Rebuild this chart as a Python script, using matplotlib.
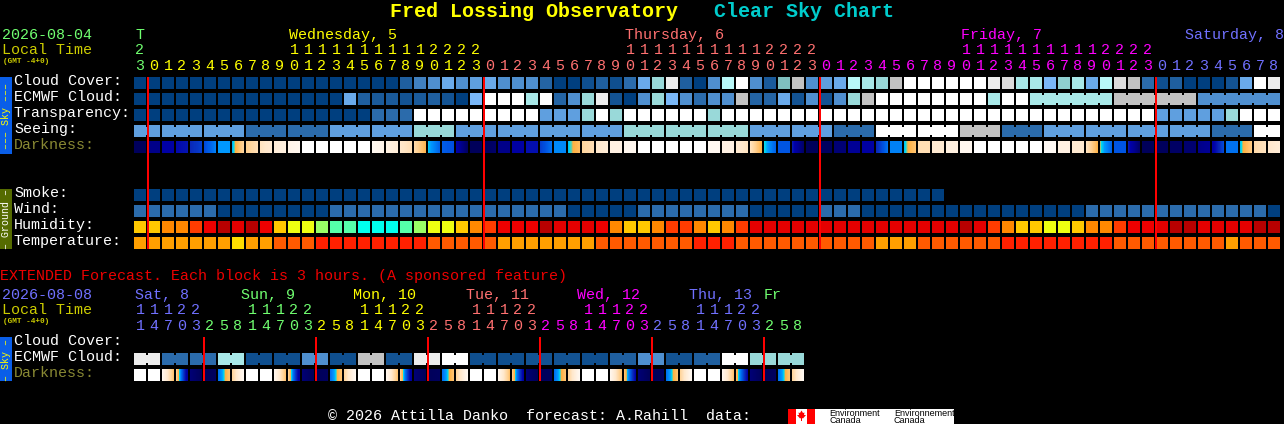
import numpy as np
import matplotlib
matplotlib.use("Agg")
from matplotlib import pyplot as plt
from matplotlib.colors import LinearSegmentedColormap

# main chart, one value per hour block
hours = [23] + list(range(24)) * 3 + list(range(9))

cloud = [0, 0, 0, 0, 0, 0, 0, 0, 0, 0,
         0, 0, 0, 0, 0, 0, 0, 0, 0, 20,
         35, 40, 50, 40, 45, 50, 40, 40, 40, 25,
         0, 0, 5, 20, 5, 30, 50, 70, 95, 20,
         0, 40, 80, 100, 40, 15, 60, 85, 40, 45,
         50, 80, 75, 70, 85, 100, 100, 100, 100, 100,
         100, 95, 90, 75, 75, 55, 65, 75, 50, 80,
         90, 85, 30, 5, 20, 0, 0, 0, 10, 50,
         100, 95]
ecmwf = [0, 0, 0, 0, 0, 0, 0, 0, 0, 0,
         0, 0, 0, 0, 0, 50, 20, 15, 15, 10,
         15, 20, 10, 0, 55, 100, 100, 100, 75, 100,
         25, 40, 70, 95, 10, 0, 40, 70, 55, 40,
         30, 40, 40, 85, 25, 25, 50, 10, 40, 10,
         40, 70, 85, 100, 100, 100, 100, 100, 100, 100,
         100, 75, 100, 100, 75, 75, 75, 75, 75, 75,
         85, 85, 85, 85, 85, 85, 40, 40, 40, 40,
         40, 40]
transparency = [0, 0, 0, 0, 0, 0, 0, 0, 0, 0,
                0, 0, 0, 0, 0, 0, 0, 30, 30, 30,
                100, 100, 100, 100, 100, 100, 100, 100, 100, 45,
                45, 45, 70, 100, 70, 100, 100, 100, 100, 100,
                100, 70, 100, 100, 100, 100, 100, 100, 100, 100,
                100, 100, 100, 100, 100, 100, 100, 100, 100, 100,
                100, 100, 100, 100, 100, 100, 100, 100, 100, 100,
                100, 100, 100, 45, 45, 45, 45, 45, 70, 100,
                100, 100]
# seeing comes in 3 hour groups
seeing_groups = [45, 45, 45, 30, 30, 45, 45, 70, 45, 45, 45, 45, 70, 70, 70,
                 45, 45, 30, 100, 100, 85, 30, 45, 45, 45, 45, 30, 100]
dark_start = [3, 18, 28, 32, 38, 44, 55, 56, 70, 78,
              84, 90, 100, 100, 100, 100, 100, 94, 88, 80,
              74, 57, 47, 30, 2, 3, 18, 27, 33, 42,
              53, 57, 72, 80, 88, 93, 100, 100, 100, 100,
              100, 94, 88, 82, 78, 58, 46, 35, 2, 4,
              12, 22, 27, 38, 52, 57, 76, 82, 87, 93,
              100, 100, 100, 100, 100, 95, 88, 82, 78, 59,
              46, 35, 2, 3, 6, 10, 18, 28, 50, 57,
              74, 80]
dark_end = [3, 18, 28, 34, 42, 52, 55, 72, 76, 82,
            87, 93, 100, 100, 100, 100, 100, 90, 84, 76,
            62, 48, 45, 5, 2, 8, 18, 27, 33, 50,
            53, 64, 76, 84, 88, 93, 100, 100, 100, 100,
            100, 94, 88, 78, 61, 48, 46, 8, 2, 4,
            12, 22, 27, 50, 52, 66, 76, 82, 87, 93,
            100, 100, 100, 100, 100, 95, 88, 82, 61, 48,
            46, 8, 2, 3, 6, 10, 22, 44, 50, 68,
            78, 84]
smoke = [0] * 58
wind = [30] * 6 + [0] * 8 + [30] * 17 + [0] * 5 + [30] * 8 + [0] * 5 + [30] * 3 + [0] * 16 + [30] * 13 + [0]
humidity = [65, 65, 70, 70, 75, 80, 90, 85, 90, 80,
            65, 60, 60, 55, 50, 50, 45, 45, 45, 50,
            55, 60, 60, 65, 70, 75, 80, 80, 80, 90,
            85, 85, 85, 80, 70, 65, 65, 70, 75, 75,
            70, 65, 70, 75, 85, 85, 85, 85, 85, 85,
            85, 85, 85, 85, 85, 85, 85, 85, 85, 90,
            85, 75, 70, 65, 65, 60, 60, 65, 70, 70,
            75, 80, 80, 85, 90, 90, 85, 85, 85, 85,
            90, 90]
temperature = [20] * 7 + [16] + [20] * 2 + [24] * 3 + [28] * 8 + [24] * 5 + [20] * 7 + [24] * 7 \
    + [28] * 3 + [24] * 10 + [20] * 3 + [24] * 6 + [28] * 8 + [24] * 8 + [20] + [24] * 3

# extended forecast, 3 hours per block
ext_hours = [11, 14, 17, 20, 23, 2, 5, 8] * 6
ext_ecmwf = [95, 30, 30, 75, 5, 5, 40, 5, 85, 10, 95, 100,
             5, 5, 10, 10, 5, 20, 40, 10, 20, 100, 70, 70]
ext_dark_start = [100, 100, 92, 70, 12, 2, 50, 72,
                  100, 100, 92, 70, 12, 2, 50, 72,
                  100, 100, 92, 70, 12, 2, 50, 72,
                  100, 100, 92, 68, 12, 2, 50, 72,
                  100, 100, 92, 66, 12, 2, 50, 72,
                  100, 100, 92, 64, 12, 2, 50, 72]
ext_dark_end = [100, 100, 66, 25, 2, 4, 66, 94,
                100, 100, 66, 25, 2, 4, 66, 94,
                100, 100, 66, 25, 2, 4, 66, 94,
                100, 100, 66, 28, 2, 4, 66, 94,
                100, 100, 66, 30, 2, 4, 66, 94,
                100, 100, 66, 30, 2, 4, 66, 94]

day_labels = ["Wednesday, 5", "Thursday, 6", "Friday, 7", "Saturday, 8"]
ext_day_labels = ["Sat, 8", "Sun, 9", "Mon, 10", "Tue, 11", "Wed, 12", "Thu, 13", "Fr"]

# colours
cloud_colors = {0: "#003f7f", 5: "#0f4f8f", 10: "#135393", 15: "#1a5a9a", 20: "#1f5f9f",
                25: "#2464a4", 30: "#2b6bab", 35: "#4080c0", 40: "#4f8fcf", 45: "#5f9fdf",
                50: "#6aaaea", 55: "#7ab8f8", 60: "#7fbfbf", 65: "#8fd0d0", 70: "#99d9d9",
                75: "#a8e8e8", 80: "#b8f8f8", 85: "#c2c2c2", 90: "#dcdcdc", 95: "#ececec",
                100: "#ffffff"}
humidity_colors = {45: "#00ffee", 50: "#55ffaa", 55: "#99ff66", 60: "#eeff11", 65: "#ffc800",
                   70: "#ff8800", 75: "#ff3c00", 80: "#ee0000", 85: "#e40000", 90: "#b80000"}
temp_colors = {16: "#ffdd00", 20: "#ff9f00", 24: "#ff5a00", 28: "#ff2000"}
dark_cmap = LinearSegmentedColormap.from_list("dark", [
    (0.00, "#000055"), (0.10, "#000070"), (0.20, "#000090"), (0.30, "#0000aa"),
    (0.38, "#0a28b8"), (0.45, "#0050e0"), (0.50, "#0070f0"), (0.55, "#0099ff"),
    (0.58, "#00ddee"), (0.60, "#ffb040"), (0.70, "#ffd090"), (0.80, "#ffe8cc"),
    (0.90, "#fff4e8"), (1.00, "#ffffff")])

GREEN = "#70ff70"
YELLOW = "#ffff00"
PINK = "#ff7070"
MAGENTA = "#ff00ff"
BLUE = "#7070ff"
OLIVE = "#cccc00"
MONO = "Liberation Mono"
LEFT = 134
STEP = 14
CELL = 12

fig = plt.figure(figsize=(12.84, 4.24), dpi=100, facecolor="black")
ax = fig.add_axes([0, 0, 1, 1])
ax.set_facecolor("black")
ax.axis("off")


def put(x, y, s, color="white", size=10.8, **kw):
    kw.setdefault("family", MONO)
    ax.text(x, y, s, color=color, fontsize=size, va="baseline", **kw)


def draw_row(values, top, colors):
    xs = [LEFT + STEP * i for i in range(len(values))]
    ax.bar(xs, CELL, width=CELL, bottom=top, align="edge", linewidth=0,
           color=[colors[v] for v in values])


def join_cells(values, top, first, last, colors):
    # little bridge between blocks of one longer forecast period
    for i in range(first, last):
        ax.bar(LEFT + STEP * i + CELL, CELL - 4, width=STEP - CELL, bottom=top + 2, align="edge",
               linewidth=0, color=colors[values[i]])


def draw_darkness(starts, ends, top):
    for i, (a, b) in enumerate(zip(starts, ends)):
        x = LEFT + STEP * i
        ax.imshow(np.linspace(a, b, CELL).reshape(1, -1), cmap=dark_cmap, vmin=0, vmax=100,
                  extent=(x, x + CELL, top + CELL, top), aspect="auto", interpolation="nearest")


def hour_digits(hour_list, colors, y_tens, y_units):
    for i, (h, c) in enumerate(zip(hour_list, colors)):
        x = LEFT + STEP * i + 6
        put(x, y_units, str(h % 10), c, ha="center")
        if h >= 10:
            put(x, y_tens, str(h // 10), c, ha="center")


# title
put(390, 17, "Fred Lossing Observatory", YELLOW, size=14.4, fontweight="bold")
put(714, 17, "Clear Sky Chart", "#00cccc", size=14.4, fontweight="bold")

# main header
put(2, 39, "2026-08-04", GREEN)
put(2, 54, "Local Time", OLIVE)
put(3, 63, "(GMT -4+0)", OLIVE, size=5.6, fontweight="bold")
put(135, 39, "T", GREEN)
for x, label, c in zip([289, 625, 961, 1185], day_labels, [YELLOW, PINK, MAGENTA, BLUE]):
    put(x, 39, label, c)
hour_colors = [GREEN] + [YELLOW] * 24 + [PINK] * 24 + [MAGENTA] * 24 + [BLUE] * 9
hour_digits(hours, hour_colors, 54, 70)

# sky rows
seeing = []
for n, v in enumerate(seeing_groups):
    seeing += [v] * (2 if n in (0, len(seeing_groups) - 1) else 3)

draw_row(cloud, 77, cloud_colors)
draw_row(ecmwf, 93, cloud_colors)
draw_row(transparency, 109, cloud_colors)
draw_row(seeing, 125, cloud_colors)
draw_darkness(dark_start, dark_end, 141)
pos = 0
for n, v in enumerate(seeing_groups):
    size = 2 if n in (0, len(seeing_groups) - 1) else 3
    join_cells(seeing, 125, pos, pos + size - 1, cloud_colors)
    pos += size
for first, last in [(64, 69), (70, 75), (76, 81)]:
    join_cells(ecmwf, 93, first, last, cloud_colors)

for y, label in zip([85, 101, 117, 133], ["Cloud Cover:", "ECMWF Cloud:", "Transparency:", "Seeing:"]):
    put(14, y, label)
put(14, 149, "Darkness:", "#888833")

# ground rows
draw_row(smoke, 189, cloud_colors)
draw_row(wind, 205, cloud_colors)
draw_row(humidity, 221, humidity_colors)
draw_row(temperature, 237, temp_colors)
for y, label in zip([197, 213, 229, 245], ["Smoke:", "Wind:", "Humidity:", "Temperature:"]):
    put(14, y, label)

# side bars
ax.bar(0, 77, width=12, bottom=77, align="edge", color="#0a5ee8", linewidth=0)
ax.bar(0, 60, width=12, bottom=189, align="edge", color="#556b00", linewidth=0)
ax.bar(0, 44, width=12, bottom=337, align="edge", color="#0a5ee8", linewidth=0)
ax.text(6, 116, "\u2013\u2013\u2013 Sky \u2013\u2013\u2013", color=YELLOW, family=MONO, fontsize=7.2,
        rotation=90, ha="center", va="center")
ax.text(6, 219, "\u2013 Ground \u2013", color="white", family=MONO, fontsize=7.2, rotation=90,
        ha="center", va="center")
ax.text(6, 360, "\u2013 Sky \u2013", color=YELLOW, family=MONO, fontsize=7.2, rotation=90,
        ha="center", va="center")

# extended forecast
put(0, 280, "EXTENDED Forecast. Each block is 3 hours. (A sponsored feature)", "#ee0000")
put(2, 299, "2026-08-08", BLUE)
put(2, 314, "Local Time", OLIVE)
put(3, 323, "(GMT -4+0)", OLIVE, size=5.6, fontweight="bold")
ext_colors = [BLUE, GREEN, YELLOW, PINK, MAGENTA, BLUE, GREEN]
for x, label, c in zip([135, 241, 353, 466, 577, 689, 764], ext_day_labels, ext_colors):
    put(x, 299, label, c)
ext_hour_colors = [BLUE] * 5 + [GREEN] * 8 + [YELLOW] * 8 + [PINK] * 8 + [MAGENTA] * 8 + [BLUE] * 8 + [GREEN] * 3
hour_digits(ext_hours, ext_hour_colors, 314, 330)

ext_cells = [v for v in ext_ecmwf for _ in range(2)]
draw_row(ext_cells, 353, cloud_colors)
for j in range(len(ext_ecmwf)):
    join_cells(ext_cells, 353, 2 * j, 2 * j + 1, cloud_colors)
draw_darkness(ext_dark_start, ext_dark_end, 369)

put(14, 345, "Cloud Cover:")
put(14, 361, "ECMWF Cloud:")
put(14, 377, "Darkness:", "#888833")

# midnight lines
for x in [147, 483, 819, 1155]:
    ax.bar(x, 172, width=2, bottom=77, align="edge", color="#ff0000", linewidth=0)
for x in [203, 315, 427, 539, 651, 763]:
    ax.bar(x, 44, width=2, bottom=337, align="edge", color="#ff0000", linewidth=0)

# footer and logo
put(328, 420, "\u00a9 2026 Attilla Danko  forecast: A.Rahill  data:")
ax.bar(788, 15, width=166, bottom=409, align="edge", color="white", linewidth=0)
ax.bar(788, 15, width=8, bottom=409, align="edge", color="#ff0000", linewidth=0)
ax.bar(807, 15, width=8, bottom=409, align="edge", color="#ff0000", linewidth=0)
ax.fill([801.5, 803, 804.5, 804, 806, 803, 802, 802, 801, 801, 800, 797, 799, 798.5, 800],
        [410.5, 413, 412.5, 415, 415, 418.5, 418, 421, 421, 418, 418.5, 415, 415, 412.5, 413],
        color="#ff0000", linewidth=0)
for x, word in [(829, "Environment"), (894, "Environnement")]:
    ax.text(x, 416, word, color="black", family="Liberation Sans", fontsize=6.5, va="baseline")
for x in [829, 894]:
    ax.text(x, 423, "Canada", color="black", family="Liberation Sans", fontsize=6.5, va="baseline")

ax.set_xlim(0, 1284)
ax.set_ylim(424, 0)
fig.savefig("out.png", dpi=100, facecolor="black")
